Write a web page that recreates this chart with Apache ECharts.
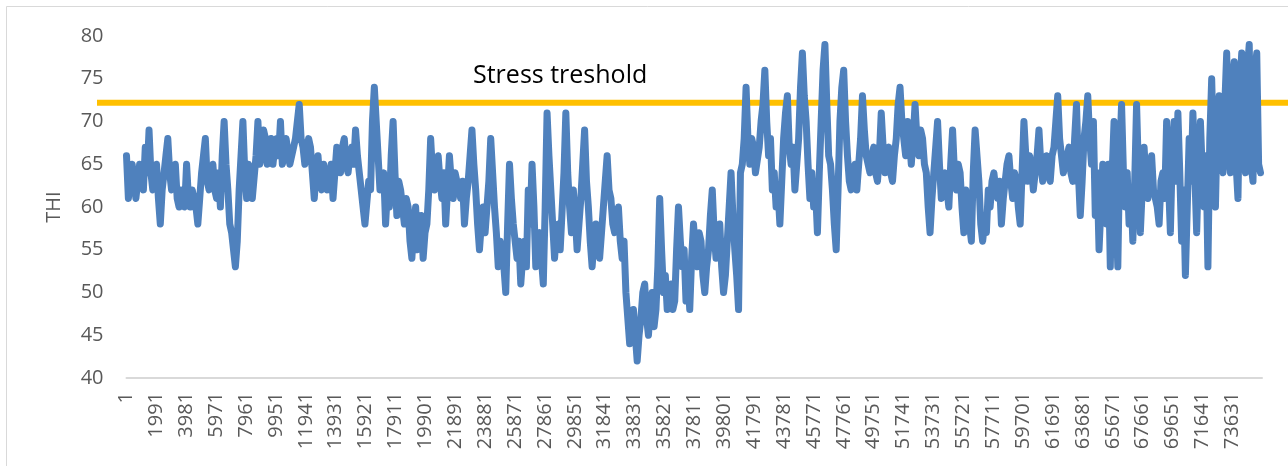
<!DOCTYPE html>
<html>
<head>
<meta charset="utf-8">
<script src="https://cdn.jsdelivr.net/npm/echarts@6/dist/echarts.min.js"></script>
<style>
  html, body { margin: 0; padding: 0; background: #fff; }
  #chart { width: 1288px; height: 466px; }
</style>
</head>
<body>
<div id="chart"></div>
<script>
// THI series, one reading every STEP records
const STEP = 125;
const X_MAX = 75600;
const LABEL_EVERY = 1990;
const Y_TICKS = [40, 45, 50, 55, 60, 65, 70, 75, 80];
const THRESHOLD = 72.2;
const THRESHOLD_LABEL = "Stress treshold";

const thi = [
  66, 61, 61, 65, 65, 61, 61, 65, 65, 62, 67, 64, 69, 64, 62, 64, 65, 61, 58, 62,
  64, 66, 68, 64, 62, 64, 65, 61, 60, 62, 62, 60, 65, 61, 60, 62, 62, 60, 58, 61,
  64, 66, 68, 63, 62, 64, 65, 62, 61, 64, 60, 66, 70, 65, 62, 58, 57, 55, 53, 56,
  62, 66, 70, 64, 61, 65, 64, 61, 61, 66, 70, 65, 66, 69, 68, 65, 66, 68, 65, 67,
  68, 66, 70, 65, 66, 68, 68, 65, 65, 67, 68, 70, 72, 68, 67, 65, 65, 68, 67, 64,
  61, 64, 66, 63, 62, 65, 65, 62, 62, 65, 61, 64, 67, 65, 64, 67, 68, 65, 64, 66,
  67, 65, 69, 66, 64, 62, 60, 58, 58, 63, 62, 70, 74, 70, 66, 62, 62, 64, 58, 62,
  60, 66, 70, 64, 59, 63, 62, 60, 58, 61, 60, 56, 54, 58, 60, 55, 56, 59, 54, 57,
  58, 62, 68, 64, 62, 65, 66, 63, 61, 64, 58, 62, 66, 63, 61, 64, 64, 62, 61, 63,
  58, 61, 63, 66, 69, 65, 62, 58, 55, 58, 60, 57, 57, 63, 68, 64, 60, 57, 53, 56,
  56, 53, 50, 58, 65, 61, 58, 56, 54, 56, 51, 54, 56, 53, 62, 58, 65, 60, 53, 56,
  57, 54, 51, 60, 71, 66, 62, 58, 54, 57, 58, 55, 55, 64, 71, 64, 60, 57, 62, 59,
  55, 58, 61, 65, 69, 63, 60, 56, 53, 56, 58, 55, 54, 57, 60, 63, 66, 62, 61, 58,
  57, 59, 60, 56, 54, 56, 50, 47, 44, 46, 48, 45, 42, 45, 47, 50, 51, 47, 45, 48,
  50, 46, 48, 53, 61, 55, 50, 52, 48, 50, 51, 48, 49, 55, 60, 56, 53, 55, 49, 52,
  48, 54, 58, 55, 53, 57, 56, 52, 50, 53, 55, 59, 62, 57, 54, 56, 58, 53, 50, 52,
  56, 60, 64, 59, 55, 52, 48, 64, 65, 68, 74, 68, 65, 68, 67, 64, 64, 67, 70, 72,
  76, 70, 66, 68, 62, 64, 60, 62, 58, 63, 68, 71, 73, 67, 65, 67, 62, 65, 68, 74,
  78, 73, 70, 65, 61, 64, 60, 62, 57, 64, 70, 76, 79, 72, 66, 65, 62, 58, 55, 62,
  70, 74, 76, 70, 66, 63, 62, 64, 65, 62, 62, 68, 73, 69, 66, 65, 64, 66, 67, 64,
  63, 66, 71, 67, 64, 66, 67, 64, 63, 66, 68, 72, 74, 70, 68, 66, 70, 68, 65, 68,
  72, 68, 66, 69, 68, 65, 64, 60, 57, 61, 64, 67, 70, 65, 61, 63, 64, 62, 60, 65,
  69, 64, 62, 65, 64, 60, 57, 62, 60, 58, 56, 64, 69, 66, 63, 58, 56, 58, 57, 62,
  60, 63, 64, 62, 61, 63, 58, 61, 63, 65, 66, 63, 61, 64, 63, 60, 58, 64, 70, 66,
  63, 66, 65, 62, 62, 66, 69, 65, 63, 65, 66, 64, 63, 66, 67, 70, 73, 68, 66, 64,
  64, 66, 67, 64, 63, 68, 72, 64, 59, 63, 68, 70, 73, 68, 65, 70, 59, 64, 55, 60,
  65, 61, 58, 65, 53, 64, 70, 60, 53, 66, 72, 64, 60, 64, 58, 62, 56, 63, 72, 64,
  57, 62, 67, 63, 61, 64, 66, 62, 62, 60, 58, 63, 64, 61, 70, 63, 57, 66, 70, 63,
  71, 64, 56, 62, 52, 60, 68, 63, 71, 64, 57, 65, 70, 64, 60, 66, 53, 68, 75, 66,
  60, 70, 73, 65, 64, 72, 78, 66, 64, 75, 77, 65, 61, 74, 78, 66, 64, 76, 79, 65,
  63, 76, 78, 65, 64
];

const textColor = "#595959";
const fontFamily = "'Open Sans', sans-serif";

const chart = echarts.init(document.getElementById("chart"), null, { renderer: "canvas" });

chart.setOption({
  animation: false,
  backgroundColor: "#fff",
  textStyle: { fontFamily: fontFamily },
  graphic: [
    {
      type: "rect",
      silent: true,
      shape: { x: 6.5, y: 6.5, width: 1300, height: 500 },
      style: { fill: "none", stroke: "#d9d9d9", lineWidth: 1 }
    },
    {
      type: "text",
      left: 473,
      top: 63,
      style: {
        text: THRESHOLD_LABEL,
        fill: "#000",
        font: "25px 'Open Sans', sans-serif"
      }
    }
  ],
  grid: [
    { left: 126.5, right: 26, top: 36, bottom: 88 },
    { left: 97, right: 0, top: 36, bottom: 88 }
  ],
  xAxis: [
    {
      gridIndex: 0,
      type: "value",
      min: 0,
      max: X_MAX,
      interval: LABEL_EVERY,
      axisLine: { lineStyle: { color: "#d9d9d9", width: 2 } },
      axisTick: { show: false },
      splitLine: { show: false },
      axisLabel: {
        rotate: 90,
        margin: 14,
        color: textColor,
        fontSize: 20,
        showMaxLabel: false,
        formatter: (v) => (v % LABEL_EVERY === 0 ? String(v + 1) : "")
      }
    },
    { gridIndex: 1, type: "value", min: 0, max: 1, show: false }
  ],
  yAxis: [
    {
      gridIndex: 0,
      type: "value",
      min: Y_TICKS[0],
      max: Y_TICKS[Y_TICKS.length - 1],
      interval: Y_TICKS[1] - Y_TICKS[0],
      name: "THI",
      nameLocation: "middle",
      nameGap: 62,
      nameTextStyle: { color: textColor, fontSize: 20 },
      axisLine: { show: false },
      axisTick: { show: false },
      splitLine: { show: false },
      axisLabel: { color: textColor, fontSize: 20, margin: 23 }
    },
    { gridIndex: 1, type: "value", min: Y_TICKS[0], max: Y_TICKS[Y_TICKS.length - 1], show: false }
  ],
  series: [
    {
      name: "Threshold",
      type: "line",
      xAxisIndex: 1,
      yAxisIndex: 1,
      z: 1,
      symbol: "none",
      data: [[0, THRESHOLD], [1, THRESHOLD]],
      lineStyle: { color: "#ffc000", width: 6 }
    },
    {
      name: "THI",
      type: "line",
      xAxisIndex: 0,
      yAxisIndex: 0,
      z: 3,
      symbol: "none",
      data: thi.map((v, i) => [i * STEP, v]),
      lineStyle: { color: "#4f81bd", width: 7, cap: "round", join: "round" }
    }
  ]
});
</script>
</body>
</html>
